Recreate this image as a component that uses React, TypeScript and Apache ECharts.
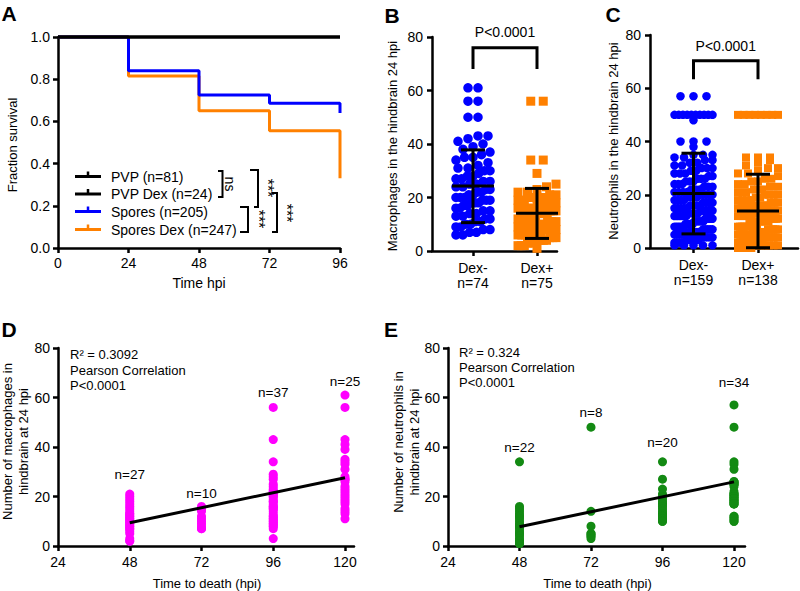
import React, { useEffect, useRef } from 'react';
import * as echarts from 'echarts';

const FONT = '"Liberation Sans", Arial, Helvetica, sans-serif';
const BLUE = '#0000FF';
const ORANGE = '#FF8000';
const MAGENTA = '#FF00FF';
const GREEN = '#138A13';

// ---------- Panel A : survival ----------
const survivalTimes = [0, 24, 48, 72, 96];
const survivalNames = ['PVP (n=81)', 'PVP Dex (n=24)', 'Spores (n=205)', 'Spores Dex (n=247)'];
const survivalColors = ['#000000', '#000000', BLUE, ORANGE];
const pvpSurvival = [1, 1, 1, 1, 1];
const pvpDexSurvival = [1, 1, 1, 1, 1];
const sporesSurvival = [1, 0.84, 0.725, 0.686, 0.64];
const sporesDexSurvival = [1, 0.815, 0.65, 0.556, 0.33];

// ---------- Panel B : macrophages ----------
const groupNames = ['Dex-', 'Dex+'];
const macroGroupN = ['n=74', 'n=75'];
const macroDexMinus = [61, 61, 56, 56, 50, 50, 43, 43, 42, 41, 40, 39, 38, 37, 36, 35, 35, 34, 33, 32, 31, 31, 30, 30, 29, 28,
  28, 27, 27, 26, 26, 25, 25, 24, 24, 23, 23, 22, 22, 21, 21, 20, 20, 20, 19, 19, 19, 18, 18, 18, 17, 17, 16, 16, 15, 15,
  14, 14, 13, 13, 12, 12, 11, 11, 10, 10, 9, 9, 8, 8, 7, 7, 6, 6];
const macroDexPlus = [56, 56, 34, 34, 29, 25, 24, 23, 22, 22, 21, 21, 20, 20, 20, 19, 19, 18, 18, 18, 17, 17, 16, 16, 16,
  16, 15, 15, 15, 14, 14, 14, 14, 13, 13, 13, 12, 12, 12, 12, 11, 11, 11, 10, 10, 10, 10, 9, 9, 9, 8, 8, 8, 8, 7, 7, 7,
  6, 6, 6, 6, 5, 5, 5, 4, 4, 4, 4, 3, 3, 3, 2, 2, 2, 1];
const macroMean = [24.3, 14.1];
const macroSdLow = [10.6, 4.7];
const macroSdHigh = [37.8, 23.4];
const macroP = 'P<0.0001';

// ---------- Panel C : neutrophils ----------
const neutroGroupN = ['n=159', 'n=138'];
const neutroDexMinus = [57, 57, 57, 50, 50, 50, 50, 50, 50, 50, 50, 50, 50, 48, 40, 40, 40, 38,
  35, 35, 35, 34, 34, 33, 33, 32, 32, 31, 31, 30, 30, 30, 29, 29, 28, 28, 28, 27, 27, 26, 26, 26, 25, 25, 25, 24, 24, 24,
  23, 23, 23, 22, 22, 22, 21, 21, 21, 21, 20, 20, 20, 20, 20, 19, 19, 19, 19, 18, 18, 18, 18, 17, 17, 17, 17,
  16, 16, 16, 16, 15, 15, 15, 15, 15, 14, 14, 14, 14, 14, 13, 13, 13, 13, 12, 12, 12, 12, 12, 11, 11, 11, 11, 11,
  10, 10, 10, 10, 10, 10, 9, 9, 9, 9, 9, 8, 8, 8, 8, 8, 8, 7, 7, 7, 7, 7, 6, 6, 6, 6, 6, 6, 5, 5, 5, 5, 5, 5,
  4, 4, 4, 4, 4, 4, 3, 3, 3, 3, 3, 3, 2, 2, 2, 2, 2, 1, 1, 1, 1, 1];
const neutroDexPlus = [50, 50, 50, 50, 50, 50, 50, 50, 34, 34, 34, 33, 32, 31, 30, 30, 29, 28, 28, 27, 26, 26, 25, 25,
  24, 24, 23, 23, 22, 22, 21, 21, 20, 20, 20, 20, 19, 19, 18, 18, 18, 18, 17, 17, 17, 16, 16, 16, 16, 15, 15, 15, 15, 15,
  14, 14, 14, 14, 14, 13, 13, 13, 13, 13, 12, 12, 12, 12, 12, 12, 11, 11, 11, 11, 11, 10, 10, 10, 10, 10, 10,
  9, 9, 9, 9, 9, 8, 8, 8, 8, 8, 8, 7, 7, 7, 7, 7, 6, 6, 6, 6, 6, 6, 5, 5, 5, 5, 5, 5, 4, 4, 4, 4, 4, 4, 4,
  3, 3, 3, 3, 3, 3, 2, 2, 2, 2, 2, 2, 1, 1, 1, 1, 1, 1, 0, 0, 0, 0];
const neutroMean = [20.5, 13.9];
const neutroSdLow = [5.3, 0.1];
const neutroSdHigh = [35.6, 27.7];
const neutroP = 'P<0.0001';

// ---------- Panel D : macrophages vs time to death ----------
const deathTimes = [48, 72, 96, 120];
const deathTicks = [24, 48, 72, 96, 120];
const macroAt48 = [21, 20, 19, 18, 17, 16, 15, 14, 13, 13, 12, 12, 11, 11, 10, 10, 9, 9, 8, 8, 7, 7, 6, 5, 3, 2, 2];
const macroAt72 = [16, 15, 14, 12, 11, 10, 9, 8, 7, 7];
const macroAt96 = [56, 43, 34, 29, 28, 27, 25, 24, 23, 22, 21, 21, 20, 20, 19, 18, 18, 17, 16, 16, 15, 15, 14, 13, 12,
  12, 11, 11, 10, 10, 9, 9, 8, 8, 7, 3, 22];
const macroAt120 = [61, 56, 43, 41, 39, 35, 34, 33, 31, 28, 27, 26, 24, 23, 22, 21, 20, 19, 18, 17, 15, 14, 13, 11, 27];
const macroFitX = [48, 120];
const macroFitY = [9.4, 27.6];
const macroNLabels = ['n=27', 'n=10', 'n=37', 'n=25'];
const macroNLabelY = [28.7, 21.4, 62.2, 66.3];
const macroStats = ['R² = 0.3092', 'Pearson Correlation', 'P<0.0001'];

// ---------- Panel E : neutrophils vs time to death ----------
const neutroAt48 = [34, 16, 15, 14, 13, 12, 12, 11, 10, 9, 8, 8, 7, 6, 5, 5, 4, 3, 2, 2, 1, 1];
const neutroAt72 = [48, 14, 8, 5, 5, 4, 4, 3];
const neutroAt96 = [34, 27, 23, 21, 20, 19, 18, 17, 17, 16, 15, 14, 13, 13, 12, 12, 11, 11, 10, 10];
const neutroAt120 = [57, 48, 34, 33, 31, 26, 26, 26, 25, 25, 25, 24, 22, 21, 21, 21, 20, 20, 20, 19, 19, 19, 18, 18, 18,
  17, 17, 17, 12, 12, 11, 11, 10, 10];
const neutroFitX = [48, 120];
const neutroFitY = [7.8, 25.9];
const neutroNLabels = ['n=22', 'n=8', 'n=20', 'n=34'];
const neutroNLabelY = [40.0, 54.1, 42.0, 65.9];
const neutroStats = ['R² = 0.324', 'Pearson Correlation', 'P<0.0001'];

// ---------- layout ----------
const GA = { left: 58, top: 37, width: 282, height: 211 };
const GB = { left: 432, top: 37, width: 125, height: 214 };
const GC = { left: 650, top: 35, width: 148, height: 213 };
const GD = { left: 58, top: 348, width: 296, height: 198 };
const GE = { left: 448, top: 348, width: 297, height: 198 };
const bXMin = 1 - 41 / 64;
const bXMax = bXMin + GB.width / 64;
const cXMin = 1 - 43.5 / 64.5;
const cXMax = cXMin + GC.width / 64.5;
const legendRowsY = [176.5, 194, 211.5, 229.5];

function swarm(values: number[], center: number, xPx: number, yPx: number, binPx: number, spacing: number, maxHalf: number) {
  const bins = new Map<number, number[]>();
  values.forEach((v) => {
    const k = Math.round((v * yPx) / binPx);
    if (!bins.has(k)) bins.set(k, []);
    bins.get(k)!.push(v);
  });
  const out: number[][] = [];
  bins.forEach((list) => {
    list.sort((a, b) => a - b);
    const n = list.length;
    const sp = n > 1 ? Math.min(spacing, (2 * maxHalf) / (n - 1)) : 0;
    list.forEach((v, i) => out.push([center + ((i - (n - 1) / 2) * sp) / xPx, v]));
  });
  return out;
}

const axisStyle = {
  axisLine: { show: true, onZero: false, lineStyle: { color: '#000', width: 2.5 } },
  axisTick: { show: true, length: 5, lineStyle: { color: '#000', width: 2.5 } },
  splitLine: { show: false },
};
const labelStyle = { color: '#000', fontSize: 14, fontFamily: FONT };

function errorBars(axisIndex: number, means: number[], lows: number[], highs: number[]) {
  return {
    type: 'custom',
    xAxisIndex: axisIndex,
    yAxisIndex: axisIndex,
    z: 5,
    clip: false,
    silent: true,
    data: means.map((m, i) => [i + 1, m, lows[i], highs[i]]),
    renderItem: (params: any, api: any) => {
      const x = api.value(0);
      const pm = api.coord([x, api.value(1)]);
      const pl = api.coord([x, api.value(2)]);
      const ph = api.coord([x, api.value(3)]);
      const st = { stroke: '#000', lineWidth: 3, fill: null };
      return {
        type: 'group',
        children: [
          { type: 'line', shape: { x1: pl[0], y1: pl[1], x2: ph[0], y2: ph[1] }, style: st },
          { type: 'line', shape: { x1: pm[0] - 21, y1: pm[1], x2: pm[0] + 21, y2: pm[1] }, style: st },
          { type: 'line', shape: { x1: pl[0] - 12, y1: pl[1], x2: pl[0] + 12, y2: pl[1] }, style: st },
          { type: 'line', shape: { x1: ph[0] - 12, y1: ph[1], x2: ph[0] + 12, y2: ph[1] }, style: st },
        ],
      };
    },
  };
}

function bracket(axisIndex: number, top: number, bottom: number, textY: number, label: string) {
  return {
    type: 'custom',
    xAxisIndex: axisIndex,
    yAxisIndex: axisIndex,
    z: 5,
    clip: false,
    silent: true,
    data: [[1, top, 2, bottom, textY]],
    renderItem: (params: any, api: any) => {
      const a = api.coord([api.value(0), api.value(3)]);
      const b = api.coord([api.value(0), api.value(1)]);
      const c = api.coord([api.value(2), api.value(1)]);
      const d = api.coord([api.value(2), api.value(3)]);
      const t = api.coord([(api.value(0) + api.value(2)) / 2, api.value(4)]);
      return {
        type: 'group',
        children: [
          { type: 'polyline', shape: { points: [a, b, c, d] }, style: { stroke: '#000', lineWidth: 3, fill: null } },
          {
            type: 'text', x: t[0], y: t[1],
            style: { text: label, fill: '#000', fontSize: 14, fontFamily: FONT, align: 'center', verticalAlign: 'middle' },
          },
        ],
      };
    },
  };
}

function nLabels(axisIndex: number, xs: number[], ys: number[], labels: string[]) {
  return {
    type: 'custom',
    xAxisIndex: axisIndex,
    yAxisIndex: axisIndex,
    z: 5,
    clip: false,
    silent: true,
    data: xs.map((x, i) => [x, ys[i]]),
    renderItem: (params: any, api: any) => {
      const p = api.coord([api.value(0), api.value(1)]);
      return {
        type: 'text', x: p[0], y: p[1],
        style: { text: labels[params.dataIndex], fill: '#000', fontSize: 13.5, fontFamily: FONT, align: 'center', verticalAlign: 'middle' },
      };
    },
  };
}

function txt(text: string, x: number, y: number, opts: any = {}) {
  return {
    type: 'text', x, y, rotation: opts.rotation || 0, silent: true, z: 100,
    style: {
      text, fill: '#000', fontSize: opts.fontSize || 13, fontFamily: FONT, fontWeight: opts.fontWeight || 'normal',
      align: opts.align || 'center', verticalAlign: 'middle', lineHeight: opts.lineHeight,
    },
  };
}

function poly(points: number[][], color = '#000', width = 2) {
  return { type: 'polyline', silent: true, z: 100, shape: { points }, style: { stroke: color, lineWidth: width, fill: null } };
}

function legendRow(i: number) {
  const y = legendRowsY[i];
  const c = survivalColors[i];
  return {
    type: 'group',
    silent: true,
    z: 100,
    children: [
      { type: 'line', shape: { x1: 75, y1: y, x2: 101, y2: y }, style: { stroke: c, lineWidth: 3 } },
      { type: 'line', shape: { x1: 88, y1: y - 5, x2: 88, y2: y }, style: { stroke: c, lineWidth: 2.5 } },
      {
        type: 'text', x: 111, y,
        style: { text: survivalNames[i], fill: '#000', fontSize: 14, fontFamily: FONT, align: 'left', verticalAlign: 'middle' },
      },
    ],
  };
}

export default function App() {
  const ref = useRef<HTMLDivElement>(null);
  useEffect(() => {
    if (!ref.current) return;
    const chart = echarts.init(ref.current, null, { renderer: 'svg' });
    const colDeath = (arr: number[], t: number) => arr.map((v) => [t, v]);
    const survivalSeries = [
      { name: survivalNames[3], data: sporesDexSurvival, color: survivalColors[3] },
      { name: survivalNames[2], data: sporesSurvival, color: survivalColors[2] },
      { name: survivalNames[1], data: pvpDexSurvival, color: survivalColors[1] },
      { name: survivalNames[0], data: pvpSurvival, color: survivalColors[0] },
    ].map((s) => ({
      type: 'line',
      name: s.name,
      xAxisIndex: 0,
      yAxisIndex: 0,
      step: 'end',
      symbol: 'none',
      clip: false,
      color: s.color,
      lineStyle: { color: s.color, width: 3 },
      data: survivalTimes.map((t, i) => [t, s.data[i]]),
    }));

    const option: any = {
      animation: false,
      backgroundColor: '#fff',
      textStyle: { fontFamily: FONT },
      grid: [GA, GB, GC, GD, GE].map((g) => ({ ...g, containLabel: false })),
      xAxis: [
        { type: 'value', gridIndex: 0, min: 0, max: 96, interval: 24, ...axisStyle, axisLabel: { ...labelStyle, margin: 8 } },
        {
          type: 'value', gridIndex: 1, min: bXMin, max: bXMax, ...axisStyle,
          axisTick: { ...axisStyle.axisTick, customValues: [1, 2] },
          axisLabel: { ...labelStyle, margin: 9, lineHeight: 15, customValues: [1, 2],
            formatter: (v: number) => `${groupNames[Math.round(v) - 1]}\n${macroGroupN[Math.round(v) - 1]}` },
        },
        {
          type: 'value', gridIndex: 2, min: cXMin, max: cXMax, ...axisStyle,
          axisTick: { ...axisStyle.axisTick, customValues: [1, 2] },
          axisLabel: { ...labelStyle, margin: 9, lineHeight: 15, customValues: [1, 2],
            formatter: (v: number) => `${groupNames[Math.round(v) - 1]}\n${neutroGroupN[Math.round(v) - 1]}` },
        },
        {
          type: 'value', gridIndex: 3, min: 24, max: 24 + GD.width / ((345 - 58) / 96), ...axisStyle,
          axisTick: { ...axisStyle.axisTick, customValues: deathTicks },
          axisLabel: { ...labelStyle, margin: 9, customValues: deathTicks },
        },
        {
          type: 'value', gridIndex: 4, min: 24, max: 24 + GE.width / ((734 - 448) / 96), ...axisStyle,
          axisTick: { ...axisStyle.axisTick, customValues: deathTicks },
          axisLabel: { ...labelStyle, margin: 9, customValues: deathTicks },
        },
      ],
      yAxis: [
        { type: 'value', gridIndex: 0, min: 0, max: 1, interval: 0.2, ...axisStyle,
          axisLabel: { ...labelStyle, margin: 8, formatter: (v: number) => v.toFixed(1) } },
        { type: 'value', gridIndex: 1, min: 0, max: 80, interval: 20, ...axisStyle, axisLabel: { ...labelStyle, margin: 9 } },
        { type: 'value', gridIndex: 2, min: 0, max: 80, interval: 20, ...axisStyle, axisLabel: { ...labelStyle, margin: 9 } },
        { type: 'value', gridIndex: 3, min: 0, max: 80, interval: 20, ...axisStyle, axisLabel: { ...labelStyle, margin: 8 } },
        { type: 'value', gridIndex: 4, min: 0, max: 80, interval: 20, ...axisStyle, axisLabel: { ...labelStyle, margin: 8 } },
      ],
      series: [
        ...survivalSeries,
        // B
        { type: 'scatter', xAxisIndex: 1, yAxisIndex: 1, symbol: 'circle', symbolSize: 9.5, itemStyle: { color: BLUE, opacity: 1 },
          data: swarm(macroDexMinus, 1, 64, GB.height / 80, 9.5, 10, 17) },
        { type: 'scatter', xAxisIndex: 1, yAxisIndex: 1, symbol: 'rect', symbolSize: 9, itemStyle: { color: ORANGE, opacity: 1 },
          data: swarm(macroDexPlus, 2, 64, GB.height / 80, 9, 12.5, 19) },
        errorBars(1, macroMean, macroSdLow, macroSdHigh),
        bracket(1, 76, 68, 82, macroP),
        // C
        { type: 'scatter', xAxisIndex: 2, yAxisIndex: 2, symbol: 'circle', symbolSize: 8.5, itemStyle: { color: BLUE, opacity: 1 },
          data: swarm(neutroDexMinus, 1, 64.5, GC.height / 80, 8.5, 13, 19) },
        { type: 'scatter', xAxisIndex: 2, yAxisIndex: 2, symbol: 'rect', symbolSize: 8, itemStyle: { color: ORANGE, opacity: 1 },
          data: swarm(neutroDexPlus, 2, 64.5, GC.height / 80, 8.5, 12, 20) },
        errorBars(2, neutroMean, neutroSdLow, neutroSdHigh),
        bracket(2, 70.3, 63.4, 76, neutroP),
        // D
        { type: 'scatter', xAxisIndex: 3, yAxisIndex: 3, symbol: 'circle', symbolSize: 9, itemStyle: { color: MAGENTA, opacity: 1 },
          data: [...colDeath(macroAt48, deathTimes[0]), ...colDeath(macroAt72, deathTimes[1]), ...colDeath(macroAt96, deathTimes[2]), ...colDeath(macroAt120, deathTimes[3])] },
        { type: 'line', xAxisIndex: 3, yAxisIndex: 3, symbol: 'none', z: 4, lineStyle: { color: '#000', width: 3 },
          data: macroFitX.map((x, i) => [x, macroFitY[i]]) },
        nLabels(3, deathTimes, macroNLabelY, macroNLabels),
        // E
        { type: 'scatter', xAxisIndex: 4, yAxisIndex: 4, symbol: 'circle', symbolSize: 9, itemStyle: { color: GREEN, opacity: 1 },
          data: [...colDeath(neutroAt48, deathTimes[0]), ...colDeath(neutroAt72, deathTimes[1]), ...colDeath(neutroAt96, deathTimes[2]), ...colDeath(neutroAt120, deathTimes[3])] },
        { type: 'line', xAxisIndex: 4, yAxisIndex: 4, symbol: 'none', z: 4, lineStyle: { color: '#000', width: 3 },
          data: neutroFitX.map((x, i) => [x, neutroFitY[i]]) },
        nLabels(4, deathTimes, neutroNLabelY, neutroNLabels),
      ],
      graphic: [
        // panel letters
        txt('A', 9, 13, { fontSize: 21, fontWeight: 'bold' }),
        txt('B', 392, 15, { fontSize: 21, fontWeight: 'bold' }),
        txt('C', 613, 14, { fontSize: 21, fontWeight: 'bold' }),
        txt('D', 9, 329, { fontSize: 21, fontWeight: 'bold' }),
        txt('E', 391, 329, { fontSize: 21, fontWeight: 'bold' }),
        // legend of A
        legendRow(0), legendRow(1), legendRow(2), legendRow(3),
        // axis titles
        txt('Fraction survival', 12, 145, { rotation: Math.PI / 2 }),
        txt('Time hpi', 199, 283, { fontSize: 14 }),
        txt('Macrophages in the hindbrain 24 hpi', 392, 146, { rotation: Math.PI / 2 }),
        txt('Neutrophils in the hindbrain 24 hpi', 613, 141, { rotation: Math.PI / 2 }),
        txt('Number of macrophages in\nhindbrain at 24 hpi', 15.5, 441.5, { rotation: Math.PI / 2, lineHeight: 16.5 }),
        txt('Number of neutrophils in\nhindbrain at 24 hpi', 406.5, 442, { rotation: Math.PI / 2, lineHeight: 16.5 }),
        txt('Time to death (hpi)', 207, 583),
        txt('Time to death (hpi)', 597.5, 583),
        // stats
        ...macroStats.map((s, i) => txt(s, 70, [354.5, 370, 385][i], { align: 'left' })),
        ...neutroStats.map((s, i) => txt(s, 459, [352.5, 367.5, 382.5][i], { align: 'left' })),
        // A significance brackets
        poly([[218, 171], [222.5, 171], [222.5, 197], [218, 197]]),
        txt('ns', 230, 184, { rotation: -Math.PI / 2, fontSize: 14 }),
        poly([[250, 170], [258, 170], [258, 207], [254, 207]]),
        txt('***', 267, 188, { rotation: -Math.PI / 2, fontSize: 16 }),
        poly([[240, 207], [248, 207], [248, 232], [240, 232]]),
        txt('***', 258, 219, { rotation: -Math.PI / 2, fontSize: 16 }),
        poly([[272, 193], [277, 193], [277, 232], [272, 232]]),
        txt('***', 286, 213, { rotation: -Math.PI / 2, fontSize: 16 }),
      ],
    };
    chart.setOption(option);
    return () => chart.dispose();
  }, []);
  return <div ref={ref} style={{ position: 'absolute', left: 0, top: 0, width: 800, height: 591, background: '#fff' }} />;
}
